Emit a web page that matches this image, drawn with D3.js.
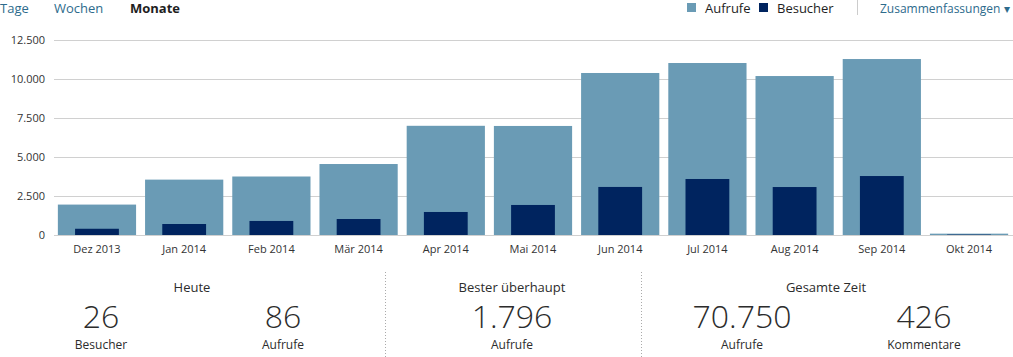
<!DOCTYPE html>
<html><head><meta charset="utf-8">
<script src="https://cdn.jsdelivr.net/npm/d3@7"></script>
<style>
body{margin:0;background:#fff;font-family:"Open Sans",sans-serif;}
svg{display:block;}
</style></head><body>
<svg id="c" width="1013" height="357"></svg>
<script>
const months = ["Dez 2013","Jan 2014","Feb 2014","Mär 2014","Apr 2014","Mai 2014","Jun 2014","Jul 2014","Aug 2014","Sep 2014","Okt 2014"];
const aufrufe = [1950,3550,3750,4550,7000,6990,10385,11025,10190,11280,86];
const besucher = [400,705,900,1025,1475,1925,3080,3590,3075,3780,26];
const yTicks = [0,2500,5000,7500,10000,12500];
const navItems = ["Tage","Wochen","Monate"];
const legendItems = ["Aufrufe","Besucher"];
const summaryGroups = [
  {title:"Heute", items:[{v:"26",l:"Besucher"},{v:"86",l:"Aufrufe"}]},
  {title:"Bester überhaupt", items:[{v:"1.796",l:"Aufrufe"}]},
  {title:"Gesamte Zeit", items:[{v:"70.750",l:"Aufrufe"},{v:"426",l:"Kommentare"}]}
];

const cView = "#6a9bb5", cVisit = "#00245f", link = "#2d6b8c";
const svg = d3.select("#c");

// nav
const navX = [0,54,130];
navItems.forEach((t,i)=>{
  svg.append("text").attr("x",navX[i]).attr("y",13).attr("font-size",13)
    .attr("fill", i===2 ? "#1e1e1e" : link).attr("font-weight", i===2 ? 700 : 400).text(t);
});
// legend
const lg = [{x:687,c:cView},{x:759,c:cVisit}];
legendItems.forEach((t,i)=>{
  svg.append("rect").attr("x",lg[i].x).attr("y",3).attr("width",9).attr("height",9).attr("fill",lg[i].c);
  svg.append("text").attr("x",lg[i].x+18).attr("y",13).attr("font-size",13).attr("fill","#1e1e1e").text(t);
});
svg.append("line").attr("x1",857.5).attr("x2",857.5).attr("y1",0).attr("y2",15).attr("stroke","#ccc");
svg.append("text").attr("x",880).attr("y",13).attr("font-size",12).attr("fill",link).text("Zusammenfassungen ▾");

// chart
const y = d3.scaleLinear().domain([0,12500]).range([235,40]);
const x = d3.scaleBand().domain(months).range([53.5,1012.5]).paddingInner(0.103).paddingOuter(0.05);
const fmt = d => d3.formatLocale({decimal:",",thousands:".",grouping:[3]}).format(",")(d);

const yAxis = svg.append("g").attr("transform","translate(54,0)")
  .call(d3.axisLeft(y).tickValues(yTicks).tickFormat(fmt).tickSize(-959).tickPadding(9));
yAxis.select(".domain").remove();
yAxis.selectAll("line").attr("stroke","#d0d0d0");
yAxis.selectAll("text").attr("font-size",11).attr("fill","#333").attr("font-family","Open Sans");

svg.append("g").selectAll("rect").data(aufrufe).join("rect")
  .attr("x",(d,i)=>x(months[i])).attr("width",x.bandwidth())
  .attr("y",d=>y(d)).attr("height",d=>y(0)-y(d)).attr("fill",cView);
const bw = x.bandwidth()*0.56;
svg.append("g").selectAll("rect").data(besucher).join("rect")
  .attr("x",(d,i)=>x(months[i])+(x.bandwidth()-bw)/2).attr("width",bw)
  .attr("y",d=>y(d)).attr("height",d=>y(0)-y(d)).attr("fill",cVisit);

const xAxis = svg.append("g").attr("transform","translate(0,235)")
  .call(d3.axisBottom(x).tickSize(0).tickPadding(10));
xAxis.select(".domain").remove();
xAxis.selectAll("text").attr("font-size",11).attr("fill","#333").attr("font-family","Open Sans");

// summary
const groupCenters = [192,512,826];
const itemX = [[101,283],[512],[742,924]];
summaryGroups.forEach((g,gi)=>{
  svg.append("text").attr("x",groupCenters[gi]).attr("y",292).attr("text-anchor","middle")
    .attr("font-size",13).attr("fill","#2c2c2c").text(g.title);
  g.items.forEach((it,ii)=>{
    svg.append("text").attr("x",itemX[gi][ii]).attr("y",328).attr("text-anchor","middle")
      .attr("font-size",32).attr("font-weight",300).attr("fill","#2c2c2c").text(it.v);
    svg.append("text").attr("x",itemX[gi][ii]).attr("y",349).attr("text-anchor","middle")
      .attr("font-size",12).attr("fill","#2c2c2c").text(it.l);
  });
});
[385.5,641.5].forEach(xx=>{
  svg.append("line").attr("x1",xx).attr("x2",xx).attr("y1",272).attr("y2",357)
    .attr("stroke","#aaa").attr("stroke-dasharray","1,2");
});
</script></body></html>
